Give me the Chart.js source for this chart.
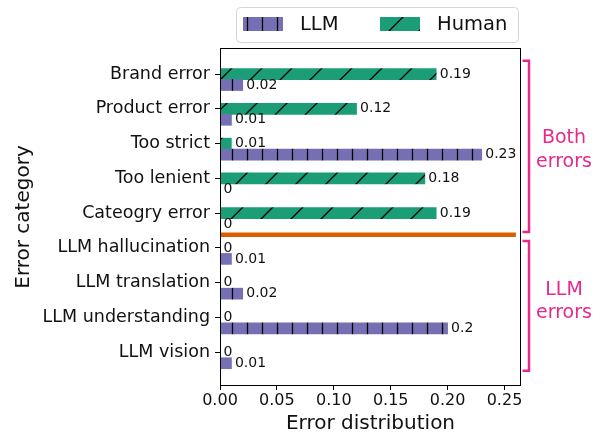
<!DOCTYPE html>
<html>
<head>
<meta charset="utf-8">
<script src="https://cdn.jsdelivr.net/npm/chart.js@4"></script>
<style>
  html, body { margin: 0; padding: 0; background: #fff; }
</style>
</head>
<body>
<canvas id="errorChart" width="601" height="436"></canvas>
<script>
var categories = ["Brand error", "Product error", "Too strict", "Too lenient", "Cateogry error",
                  "LLM hallucination", "LLM translation", "LLM understanding", "LLM vision"];
var llmValues = [0.02, 0.01, 0.23, 0, 0, 0.01, 0.02, 0.2, 0.01];
var humanValues = [0.19, 0.12, 0.01, 0.18, 0.19, 0, 0, 0, 0];
var xTicks = [0, 0.05, 0.1, 0.15, 0.2, 0.25];
var seriesNames = ["LLM", "Human"];
var groupNames = [["Both", "errors"], ["LLM", "errors"]];

var FONT = "DejaVu Sans";
var purple = "#7570b3", green = "#1b9e77", orange = "#d95f02", pink = "#e7298a";

// hatch patterns
function makePattern(color, size, drawLines) {
  var c = document.createElement("canvas");
  c.width = size; c.height = size;
  var g = c.getContext("2d");
  g.fillStyle = color;
  g.fillRect(0, 0, size, size);
  g.strokeStyle = "#000";
  g.lineWidth = 1.3;
  drawLines(g, size);
  return g.createPattern(c, "repeat");
}
var llmPattern = makePattern(purple, 15, function (g, s) {
  g.beginPath(); g.moveTo(7.5, 0); g.lineTo(7.5, s); g.stroke();
});
var humanPattern = makePattern(green, 30, function (g, s) {
  g.beginPath();
  g.moveTo(-2, s + 2); g.lineTo(s + 2, -2);
  g.moveTo(-2, 2); g.lineTo(2, -2);
  g.moveTo(s - 2, s + 2); g.lineTo(s + 2, s - 2);
  g.stroke();
});

var llmOffset = 0.315; // LLM bar sits just under the Human bar

var decorPlugin = {
  id: "decor",
  afterDatasetsDraw: function (chart) {
    var ctx = chart.ctx, xs = chart.scales.x, ys = chart.scales.y;
    ctx.save();
    // value labels
    ctx.font = "14px '" + FONT + "'";
    ctx.fillStyle = "#111";
    ctx.textBaseline = "middle";
    ctx.textAlign = "left";
    chart.data.datasets.forEach(function (ds, di) {
      var meta = chart.getDatasetMeta(di);
      meta.data.forEach(function (bar, i) {
        ctx.fillText(String(ds.data[i].x), bar.x + 3.5, bar.y);
      });
    });
    // separator between the two groups
    ctx.strokeStyle = orange;
    ctx.lineWidth = 4.5;
    var sy = ys.getPixelForValue(4.62);
    ctx.beginPath();
    ctx.moveTo(xs.getPixelForValue(0), sy);
    ctx.lineTo(xs.getPixelForValue(0.26), sy);
    ctx.stroke();
    ctx.restore();
  },
  afterDraw: function (chart) {
    var ctx = chart.ctx, a = chart.chartArea, ys = chart.scales.y;
    ctx.save();
    // frame
    ctx.strokeStyle = "#000";
    ctx.lineWidth = 1;
    ctx.strokeRect(a.left + 0.5, a.top + 0.5, a.right - a.left - 1, a.bottom - a.top - 1);

    // brackets
    var spans = [[-0.38, 4.54], [4.8, 8.53]];
    var baselines = [[143, 167], [295, 318]];
    ctx.strokeStyle = pink;
    ctx.lineWidth = 2.5;
    ctx.lineJoin = "miter";
    spans.forEach(function (sp, k) {
      var t = ys.getPixelForValue(sp[0]), b = ys.getPixelForValue(sp[1]);
      var x0 = a.right + 1.5, x1 = a.right + 8;
      ctx.beginPath();
      ctx.moveTo(x0, t); ctx.lineTo(x1, t); ctx.lineTo(x1, b); ctx.lineTo(x0, b);
      ctx.stroke();
      ctx.fillStyle = pink;
      ctx.font = "19px '" + FONT + "'";
      ctx.textAlign = "center";
      ctx.textBaseline = "alphabetic";
      groupNames[k].forEach(function (line, j) {
        ctx.fillText(line, 564, baselines[k][j]);
      });
    });

    // legend
    var lx = 236, ly = 7, lw = 282, lh = 35;
    ctx.fillStyle = "rgba(255,255,255,0.85)";
    ctx.strokeStyle = "#d6d6d6";
    ctx.lineWidth = 1;
    ctx.beginPath();
    ctx.roundRect(lx + 0.5, ly + 0.5, lw, lh, 4);
    ctx.fill();
    ctx.stroke();
    var patches = [243, 380];
    ctx.font = "19.5px '" + FONT + "'";
    ctx.textAlign = "left";
    ctx.textBaseline = "middle";
    chart.data.datasets.forEach(function (ds, di) {
      ctx.fillStyle = ds.backgroundColor;
      ctx.fillRect(patches[di], 17, 40, 14);
      ctx.fillStyle = "#111";
      ctx.fillText(ds.label, patches[di] + 57, 25);
    });
    ctx.restore();
  }
};

var errorChart = new Chart(document.getElementById("errorChart"), {
  type: "bar",
  data: {
    datasets: [
      {
        label: seriesNames[0],
        data: llmValues.map(function (v, i) { return { x: v, y: i + llmOffset }; }),
        backgroundColor: llmPattern,
        borderWidth: 0,
      },
      {
        label: seriesNames[1],
        data: humanValues.map(function (v, i) { return { x: v, y: i }; }),
        backgroundColor: humanPattern,
        borderWidth: 0,
      },
    ],
  },
  options: {
    indexAxis: "y",
    responsive: false,
    animation: false,
    layout: { padding: { top: 48, right: 80, bottom: 0, left: 0 } },
    datasets: { bar: { grouped: false, barThickness: 11 } },
    scales: {
      x: {
        type: "linear",
        min: 0,
        max: 0.2645,
        afterFit: function (s) { s.height = 50; },
        afterBuildTicks: function (s) { s.ticks = xTicks.map(function (v) { return { value: v }; }); },
        ticks: {
          callback: function (v) { return v.toFixed(2); },
          font: { family: FONT, size: 16 },
          color: "#111",
          padding: 1,
          maxRotation: 0,
        },
        grid: { drawOnChartArea: false, drawTicks: true, tickLength: 4, tickColor: "#000" },
        border: { display: false },
        title: {
          display: true,
          text: "Error distribution",
          font: { family: FONT, size: 20 },
          color: "#111",
          padding: { top: 0, bottom: 0 },
        },
      },
      y: {
        type: "linear",
        reverse: true,
        offset: false,
        min: -0.75,
        max: 8.97,
        afterFit: function (s) { s.width = 220; },
        afterBuildTicks: function (s) { s.ticks = categories.map(function (c, i) { return { value: i }; }); },
        ticks: {
          callback: function (v) { return categories[v]; },
          font: { family: FONT, size: 17.5 },
          color: "#111",
          padding: 5,
        },
        grid: { offset: false, drawOnChartArea: false, drawTicks: true, tickLength: 5, tickColor: "#000" },
        border: { display: false },
        title: {
          display: true,
          text: "Error category",
          font: { family: FONT, size: 20 },
          color: "#111",
          padding: { top: 12, bottom: 0 },
        },
      },
    },
    plugins: {
      legend: { display: false },
      tooltip: { enabled: false },
    },
  },
  plugins: [decorPlugin],
});
</script>
</body>
</html>
